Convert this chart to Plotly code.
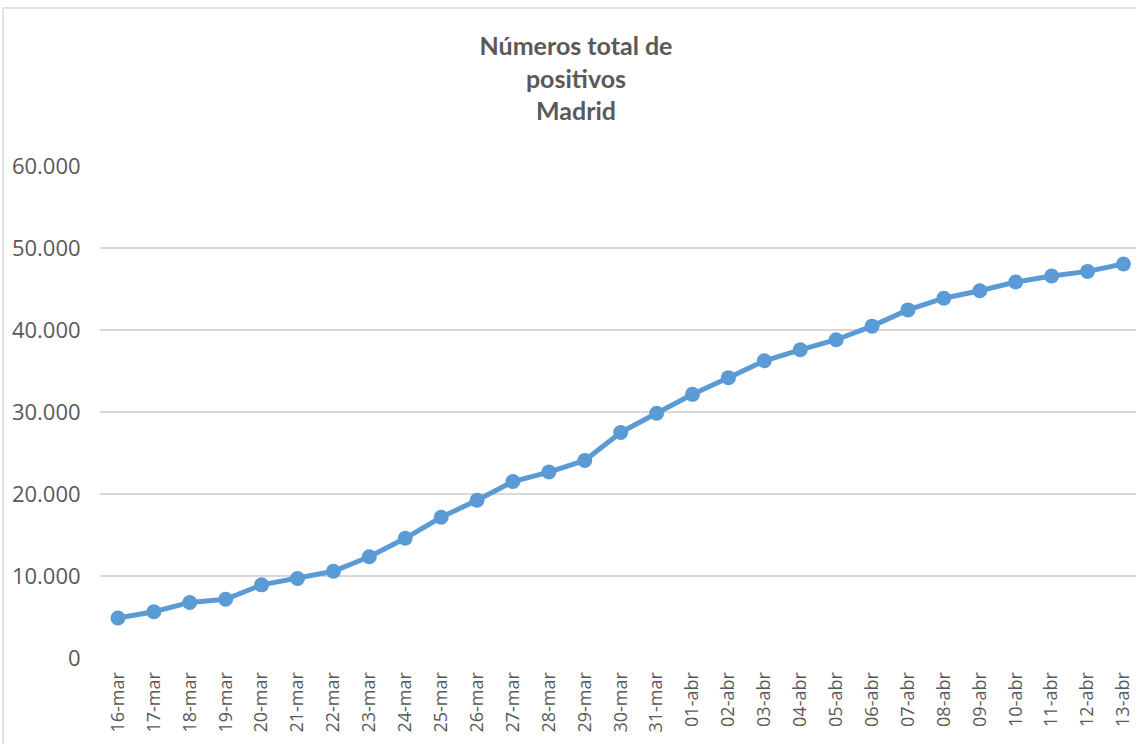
import plotly.graph_objects as go

# fechas y casos acumulados (Comunidad de Madrid)
fechas = ['16-mar', '17-mar', '18-mar', '19-mar', '20-mar', '21-mar', '22-mar',
          '23-mar', '24-mar', '25-mar', '26-mar', '27-mar', '28-mar', '29-mar',
          '30-mar', '31-mar', '01-abr', '02-abr', '03-abr', '04-abr', '05-abr',
          '06-abr', '07-abr', '08-abr', '09-abr', '10-abr', '11-abr', '12-abr',
          '13-abr']
positivos = [4871, 5637, 6777, 7165, 8921, 9702, 10575, 12352, 14597, 17166,
             19243, 21520, 22677, 24090, 27509, 29840, 32155, 34188, 36249,
             37584, 38813, 40469, 42450, 43877, 44783, 45849, 46587, 47146,
             48048]
y_ticks = [0, 10000, 20000, 30000, 40000, 50000, 60000]
y_labels = ['0', '10.000', '20.000', '30.000', '40.000', '50.000', '60.000']

gris = '#595959'
azul = '#5b9bd5'

fig = go.Figure()
fig.add_trace(go.Scatter(
    x=list(range(len(fechas))), y=positivos, mode='lines+markers',
    line=dict(color=azul, width=5),
    marker=dict(color=azul, size=15),
    showlegend=False,
))

fig.update_layout(
    width=1136, height=744,
    margin=dict(l=100, r=0, t=166, b=86),
    paper_bgcolor='white', plot_bgcolor='white',
    font=dict(family='Open Sans', color=gris),
    title=dict(
        text='Números total de<br>positivos<br>Madrid',
        font=dict(family='Lato', size=25, color=gris, weight='bold'),
        x=576 / 1136, xanchor='center', xref='container',
        y=1 - 55 / 744, yanchor='top', yref='container',
    ),
)
fig.update_xaxes(
    tickmode='array', tickvals=list(range(len(fechas))), ticktext=fechas,
    tickangle=-90, tickfont=dict(size=18, color=gris),
    range=[-0.5, 28.35], showgrid=False, zeroline=False, showline=False,
    ticks='outside', ticklen=6, tickcolor='rgba(0,0,0,0)',
)
fig.update_yaxes(
    range=[0, 60000], tickvals=y_ticks, ticktext=y_labels,
    tickfont=dict(size=22, color=gris),
    showgrid=True, gridcolor='#d9d9d9', gridwidth=1.5, zeroline=False,
    ticks='outside', ticklen=14, tickcolor='rgba(0,0,0,0)',
)

# borde del área del gráfico (arriba e izquierda)
fig.add_shape(
    type='path', xref='paper', yref='paper',
    path='M -0.0936,-0.2 L -0.0936,1.321 L 1.02,1.321',
    line=dict(color='#d9d9d9', width=1.5),
)

fig.write_html('out.html', config={'displayModeBar': False},
               post_script="document.body.style.margin='0';")
